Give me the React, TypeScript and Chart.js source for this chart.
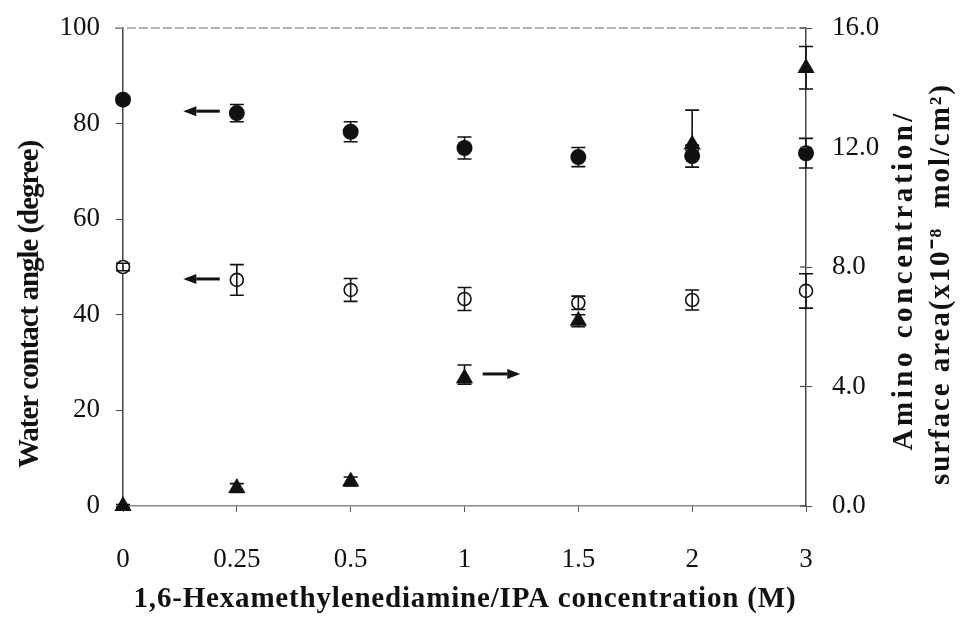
import React, { useEffect, useRef } from 'react';
import { Chart, registerables } from 'chart.js';

Chart.register(...registerables);

// ---- data ----
const categories = ['0', '0.25', '0.5', '1', '1.5', '2', '3'];
const filledAngle = [85.0, 82.2, 78.3, 74.9, 73.0, 73.2, 73.8];
const filledErr = [0.8, 1.8, 2.1, 2.3, 2.0, 2.3, 3.1];
const openAngle = [50.0, 47.3, 45.2, 43.3, 42.5, 43.1, 45.0];
const openErr = [0.8, 3.2, 2.4, 2.4, 1.4, 2.1, 3.6];
const aminoConc = [0.0, 0.6, 0.82, 4.28, 6.2, 12.1, 14.66];
const aminoErrUp = [0.05, 0.15, 0.15, 0.44, 0.2, 1.15, 0.72];
const aminoErrDown = [0.05, 0.15, 0.15, 0.2, 0.2, 0.2, 0.7];
const leftTickStep = 20;
const rightTickStep = 4;

// arrows: [fromIndex, toIndex, value, axis]
const arrowFrom = [0.85, 0.85, 3.16];
const arrowTo = [0.53, 0.53, 3.49];
const arrowValue = [82.6, 47.5, 4.42];
const arrowAxis = ['y', 'y', 'y1'];

const xTitle = '1,6-Hexamethylenediamine/IPA concentration (M)';
const yTitle = 'Water contact angle (degree)';
const y1TitleLine1 = 'Amino concentration/';
const y1TitleLine2 = 'surface area(x10\u207B\u2078  mol/cm\u00B2)';

const SERIF = "'Liberation Serif', 'Times New Roman', serif";
const INK = '#111';

function fittedText(ctx: CanvasRenderingContext2D, text: string, cx: number, cy: number, rot: number, target: number, font: string) {
  ctx.save();
  ctx.font = font;
  (ctx as any).letterSpacing = '0px';
  const w = ctx.measureText(text).width;
  const n = Array.from(text).length;
  const sp = (target - w) / Math.max(1, n - 1);
  (ctx as any).letterSpacing = sp.toFixed(2) + 'px';
  ctx.translate(cx, cy);
  ctx.rotate(rot);
  ctx.textAlign = 'left';
  ctx.textBaseline = 'middle';
  ctx.fillStyle = INK;
  ctx.fillText(text, -target / 2, 0);
  ctx.restore();
}

const extrasPlugin = {
  id: 'extras',
  afterDatasetsDraw(chart: any) {
    const ctx: CanvasRenderingContext2D = chart.ctx;
    ctx.save();
    // error bars
    chart.data.datasets.forEach((ds: any, i: number) => {
      const meta = chart.getDatasetMeta(i);
      const ys = chart.scales[ds.yAxisID];
      meta.data.forEach((pt: any, j: number) => {
        const v = ds.data[j];
        const yT = ys.getPixelForValue(v + ds.errUp[j]);
        const yB = ys.getPixelForValue(v - ds.errDown[j]);
        const x = pt.x;
        ctx.strokeStyle = INK;
        ctx.lineWidth = 1.6;
        ctx.beginPath();
        ctx.moveTo(x, yT); ctx.lineTo(x, yB);
        ctx.moveTo(x - 7, yT); ctx.lineTo(x + 7, yT);
        ctx.moveTo(x - 7, yB); ctx.lineTo(x + 7, yB);
        ctx.stroke();
      });
    });
    // arrows
    const xs = chart.scales.x;
    for (let k = 0; k < arrowFrom.length; k++) {
      const ys = chart.scales[arrowAxis[k]];
      const x0 = xs.getPixelForValue(arrowFrom[k]);
      const x1 = xs.getPixelForValue(arrowTo[k]);
      const y = ys.getPixelForValue(arrowValue[k]);
      const dir = Math.sign(x1 - x0);
      const head = 13;
      ctx.strokeStyle = INK;
      ctx.fillStyle = INK;
      ctx.lineWidth = 3;
      ctx.beginPath();
      ctx.moveTo(x0, y); ctx.lineTo(x1 - dir * head, y);
      ctx.stroke();
      ctx.beginPath();
      ctx.moveTo(x1, y);
      ctx.lineTo(x1 - dir * head, y - 5);
      ctx.lineTo(x1 - dir * head, y + 5);
      ctx.closePath();
      ctx.fill();
    }
    ctx.restore();
  },
  afterDraw(chart: any) {
    const ctx: CanvasRenderingContext2D = chart.ctx;
    const area = chart.chartArea;
    ctx.save();
    // top border (faint dashed)
    ctx.strokeStyle = '#9a9a9a';
    ctx.lineWidth = 1.5;
    ctx.setLineDash([9, 3]);
    ctx.beginPath();
    ctx.moveTo(area.left - 8, area.top);
    ctx.lineTo(area.right, area.top);
    ctx.stroke();
    ctx.setLineDash([]);
    // inward part of right ticks
    const y1 = chart.scales.y1;
    ctx.strokeStyle = '#444';
    ctx.lineWidth = 1.2;
    y1.ticks.forEach((t: any) => {
      const y = y1.getPixelForValue(t.value);
      ctx.beginPath();
      ctx.moveTo(area.right - 6, y);
      ctx.lineTo(area.right, y);
      ctx.stroke();
    });
    ctx.restore();
    // titles
    const bold = 'bold 29px ' + SERIF;
    fittedText(ctx, xTitle, (area.left + area.right) / 2, 600, 0, 662, bold);
    fittedText(ctx, yTitle, 31, 304, -Math.PI / 2, 328, bold);
    fittedText(ctx, y1TitleLine1, 905, 282, -Math.PI / 2, 337, bold);
    fittedText(ctx, y1TitleLine2, 942, 285, -Math.PI / 2, 400, bold);
  },
};

export default function App() {
  const ref = useRef<HTMLCanvasElement>(null);
  useEffect(() => {
    const tickFont = { family: SERIF, size: 27 };
    const chart = new Chart(ref.current as HTMLCanvasElement, {
      type: 'line',
      data: {
        labels: categories,
        datasets: [
          {
            label: 'Contact angle (filled)',
            data: filledAngle,
            yAxisID: 'y',
            showLine: false,
            pointStyle: 'circle',
            pointRadius: 8,
            pointBackgroundColor: INK,
            pointBorderColor: INK,
            pointBorderWidth: 0,
            clip: false,
            errUp: filledErr,
            errDown: filledErr,
          } as any,
          {
            label: 'Contact angle (open)',
            data: openAngle,
            yAxisID: 'y',
            showLine: false,
            pointStyle: 'circle',
            pointRadius: 6.5,
            pointBackgroundColor: '#fff',
            pointBorderColor: INK,
            pointBorderWidth: 1.6,
            clip: false,
            errUp: openErr,
            errDown: openErr,
          } as any,
          {
            label: 'Amino concentration',
            data: aminoConc,
            yAxisID: 'y1',
            showLine: false,
            pointStyle: 'triangle',
            pointRadius: 10,
            pointBackgroundColor: INK,
            pointBorderColor: INK,
            pointBorderWidth: 0,
            clip: false,
            errUp: aminoErrUp,
            errDown: aminoErrDown,
          } as any,
        ],
      },
      options: {
        animation: false,
        responsive: true,
        maintainAspectRatio: false,
        layout: { padding: { top: 28, left: 0, right: 0, bottom: 0 } },
        plugins: { legend: { display: false }, tooltip: { enabled: false } },
        scales: {
          x: {
            type: 'category',
            offset: false,
            grid: { display: true, drawOnChartArea: false, drawTicks: true, tickLength: 6, color: '#555' },
            border: { display: true, color: '#8a8a8a', width: 1.5 },
            ticks: { font: tickFont, color: INK, padding: 32, maxRotation: 0, autoSkip: false },
            afterFit: (s: any) => { s.height = 118; s.paddingLeft = 0; s.paddingRight = 0; },
          },
          y: {
            position: 'left',
            min: 0,
            max: 100,
            grid: { display: true, drawOnChartArea: false, drawTicks: true, tickLength: 7, color: '#444' },
            border: { display: true, color: '#444', width: 1.5 },
            ticks: { stepSize: leftTickStep, font: tickFont, color: INK, padding: 16 },
            afterFit: (s: any) => { s.width = 123; s.paddingTop = 0; s.paddingBottom = 0; },
          },
          y1: {
            position: 'right',
            min: 0,
            max: 16,
            grid: { display: true, drawOnChartArea: false, drawTicks: true, tickLength: 6, color: '#444' },
            border: { display: true, color: '#444', width: 1.5 },
            ticks: {
              stepSize: rightTickStep,
              font: tickFont,
              color: INK,
              padding: 20,
              callback: (v: any) => Number(v).toFixed(1),
            },
            afterFit: (s: any) => { s.width = 154; s.paddingTop = 0; s.paddingBottom = 0; },
          },
        },
      },
      plugins: [extrasPlugin],
    });
    return () => chart.destroy();
  }, []);
  return (
    <div style={{ position: 'fixed', left: 0, top: 0, width: 960, height: 624, background: '#fff' }}>
      <canvas ref={ref} />
    </div>
  );
}
